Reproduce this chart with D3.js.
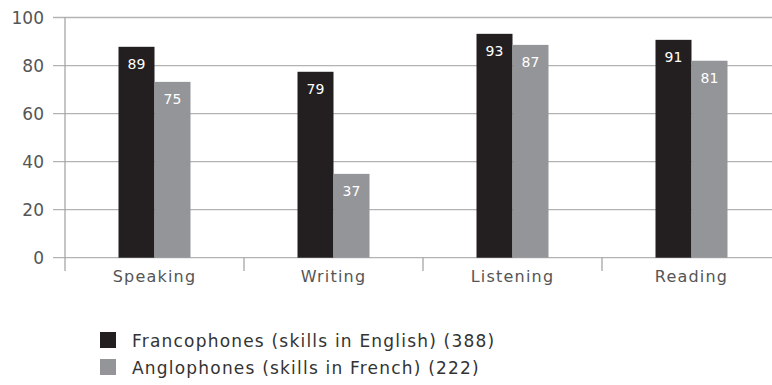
<!DOCTYPE html>
<html>
<head>
<meta charset="utf-8">
<script src="https://cdn.jsdelivr.net/npm/d3@7"></script>
<style>
  body { margin: 0; background: #fff; }
  svg { display: block; font-family: "DejaVu Sans", sans-serif; }
</style>
</head>
<body>
<svg id="chart" width="772" height="385"></svg>
<script>
// categories and series
var skills = ["Speaking", "Writing", "Listening", "Reading"];
var seriesNames = ["Francophones (skills in English) (388)", "Anglophones (skills in French) (222)"];
// bar heights as drawn in the picture
var francoBars = [87.8, 77.4, 93.2, 90.7];
var angloBars = [73.2, 34.9, 88.6, 82.0];
// printed value labels
var francoLabels = [89, 79, 93, 91];
var angloLabels = [75, 37, 87, 81];
var yTicks = [0, 20, 40, 60, 80, 100];
var colors = ["#231f20", "#939598"];

var svg = d3.select("#chart");

var x = d3.scaleBand().domain(skills).range([65, 781]);
var inner = d3.scaleBand().domain([0, 1]).range([0, 72]);
var y = d3.scaleLinear().domain([0, 100]).range([257.7, 17.5]);

// gridlines
svg.append("g").selectAll("line").data(yTicks).enter().append("line")
  .attr("x1", 53).attr("x2", 781)
  .attr("y1", function(d) { return y(d); })
  .attr("y2", function(d) { return y(d); })
  .attr("stroke", "#b3b3b3").attr("stroke-width", 1.3);

// y tick labels
svg.append("g").selectAll("text").data(yTicks).enter().append("text")
  .attr("x", 44).attr("y", function(d) { return y(d) + 6; })
  .attr("text-anchor", "end")
  .attr("font-size", 17).attr("fill", "#555")
  .text(function(d) { return d; });

// left axis line and category boundary ticks
svg.append("line").attr("x1", 65).attr("x2", 65).attr("y1", y(100)).attr("y2", 271)
  .attr("stroke", "#a6a6a6").attr("stroke-width", 1.3);
svg.append("g").selectAll("line").data(skills.slice(1)).enter().append("line")
  .attr("x1", function(d) { return x(d); }).attr("x2", function(d) { return x(d); })
  .attr("y1", y(0)).attr("y2", 271)
  .attr("stroke", "#a6a6a6").attr("stroke-width", 1.3);

// bars
var series = [
  { bars: francoBars, labels: francoLabels },
  { bars: angloBars, labels: angloLabels }
];

series.forEach(function(s, i) {
  var g = svg.append("g");
  g.selectAll("rect").data(skills).enter().append("rect")
    .attr("x", function(d) { return x(d) + x.bandwidth() / 2 - 36 + inner(i); })
    .attr("width", inner.bandwidth())
    .attr("y", function(d, j) { return y(s.bars[j]); })
    .attr("height", function(d, j) { return y(0) - y(s.bars[j]); })
    .attr("fill", colors[i]);
  g.selectAll("text").data(skills).enter().append("text")
    .attr("x", function(d) { return x(d) + x.bandwidth() / 2 - 36 + inner(i) + inner.bandwidth() / 2; })
    .attr("y", function(d, j) { return y(s.bars[j]) + 22; })
    .attr("text-anchor", "middle")
    .attr("font-size", 14).attr("fill", "#fff")
    .text(function(d, j) { return s.labels[j]; });
});

// x labels
svg.append("g").selectAll("text").data(skills).enter().append("text")
  .attr("x", function(d) { return x(d) + x.bandwidth() / 2; })
  .attr("y", 282)
  .attr("text-anchor", "middle")
  .attr("font-size", 16).attr("fill", "#555")
  .attr("letter-spacing", 1.2)
  .text(function(d) { return d; });

// legend
var legend = svg.append("g").selectAll("g").data(seriesNames).enter().append("g")
  .attr("transform", function(d, i) { return "translate(100," + (332 + i * 27) + ")"; });
legend.append("rect").attr("width", 16).attr("height", 16)
  .attr("fill", function(d, i) { return colors[i]; });
legend.append("text").attr("x", 32).attr("y", 15)
  .attr("font-size", 17).attr("fill", "#333")
  .attr("letter-spacing", 1.2)
  .text(function(d) { return d; });
</script>
</body>
</html>
